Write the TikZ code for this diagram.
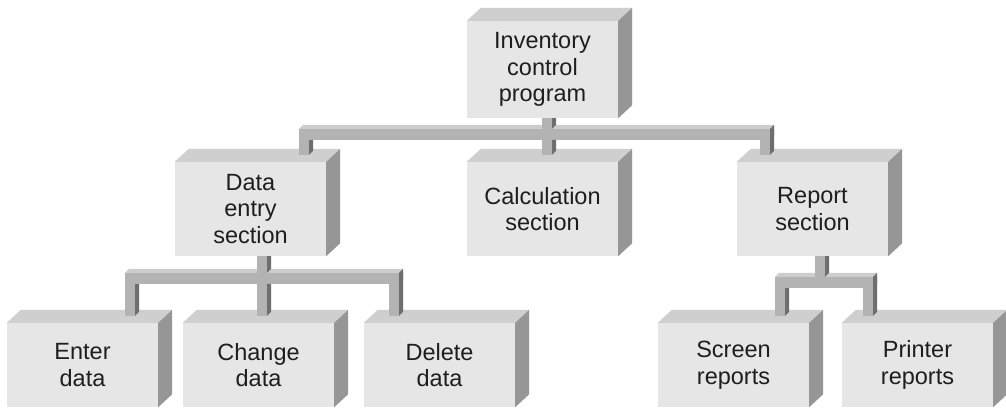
\documentclass[tikz,border=0pt]{standalone}
\usepackage{fontspec}
\setmainfont{Liberation Sans}
\usetikzlibrary{calc}
\definecolor{bfront}{HTML}{E6E6E6}
\definecolor{btop}{HTML}{CFCFCF}
\definecolor{bside}{HTML}{969696}
\definecolor{pfront}{HTML}{B3B3B3}
\definecolor{ptop}{HTML}{CDCDCD}
\definecolor{pside}{HTML}{6E6E6E}
\definecolor{txt}{HTML}{1E1E1E}
\tikzset{
  box/.style={fill=bfront, minimum width=151pt, inner sep=0pt, align=center,
    text=txt, font=\fontsize{23.5pt}{26.5pt}\selectfont},
}
% 3D top and side of a box node
\newcommand\cube[1]{%
  \fill[btop] (#1.north west) -- ++(14,-13) -- ($(#1.north east)+(14,-13)$) -- (#1.north east) -- cycle;
  \fill[bside] (#1.north east) -- ++(14,-13) -- ($(#1.south east)+(14,-13)$) -- (#1.south east) -- cycle;}
% vertical pipe: #1 top-left of front, #2 gives bottom y
\newcommand\vpipe[2]{%
  \fill[pside] let \p1=#1, \p2=#2 in (\x1+10pt,\y1) -- (\x1+14pt,\y1) -- (\x1+14pt,\y2+4pt) -- (\x1+10pt,\y2) -- cycle;
  \fill[pfront] let \p1=#1, \p2=#2 in (\x1,\y1) rectangle (\x1+10pt,\y2);}
% horizontal bar pieces: #1 left front-top, #2 right front-top
\newcommand\bartop[2]{%
  \fill[ptop] let \p1=#1, \p2=#2 in (\x1,\y1) -- (\x1+4pt,\y1+4pt) -- (\x2+4pt,\y1+4pt) -- (\x2,\y1) -- cycle;}
\newcommand\barfront[2]{%
  \fill[pfront] let \p1=#1, \p2=#2 in (\x1,\y1) rectangle (\x2,\y1-11pt);}
\newcommand\barend[1]{%
  \fill[pside] let \p1=#1 in (\x1,\y1) -- (\x1+4pt,\y1+4pt) -- (\x1+4pt,\y1-7pt) -- (\x1,\y1-11pt) -- cycle;}
\begin{document}
\begin{tikzpicture}[x=1pt,y=-1pt]
\useasboundingbox (0,0) rectangle (1006,407);
\fill[white] (0,0) rectangle (1006,407);
% boxes
\node[box, minimum height=97pt] (top) at (542.5,69.5) {Inventory\\control\\program};
\node[box, minimum height=94pt] (data) at (250.5,209) {Data\\entry\\section};
\node[box, minimum height=94pt] (calc) at (542.5,209) {Calculation\\section};
\node[box, minimum height=94pt] (report) at (812.5,209) {Report\\section};
\node[box, minimum height=84pt] (enter) at (82.5,365) {Enter\\data};
\node[box, minimum height=84pt] (change) at (258.5,365) {Change\\data};
\node[box, minimum height=84pt] (delete) at (439.5,365) {Delete\\data};
\node[box, minimum height=84pt] (screen) at (733.5,365) {Screen\\reports};
\node[box, minimum height=84pt] (printer) at (917.5,365) {Printer\\reports};
\foreach \n in {top,data,calc,report,enter,change,delete,screen,printer} {\cube{\n}}
% ---- group A: top -> data, calc, report
\coordinate (AL) at ($(data.north)+(48.5,-33)$);
\coordinate (AR) at ($(report.north)+(-42.5,-33)$);
\coordinate (ARd) at ($(AR)+(-10,0)$);
\coordinate (As) at ($(top.south)+(-0.5,0)$);
\coordinate (Asl) at ($(As |- AL)+(0,11)$);
\vpipe{(AL)}{($(data.north)+(0,-7)$)}
\vpipe{(ARd)}{($(report.north)+(0,-7)$)}
\bartop{(AL)}{(AR)}
\vpipe{(As)}{(AL)}
\barfront{(AL)}{(AR)}
\barend{(AR)}
\vpipe{(Asl)}{($(calc.north)+(0,-7)$)}
% ---- group B: data -> enter, change, delete
\coordinate (BL) at ($(enter.north)+(42.5,-50)$);
\coordinate (BR) at ($(delete.north)+(-40.5,-50)$);
\coordinate (BRd) at ($(BR)+(-10,0)$);
\coordinate (Bs) at ($(data.south)+(6.5,0)$);
\coordinate (Bsl) at ($(Bs |- BL)+(0,11)$);
\vpipe{(BL)}{($(enter.north)+(0,-7)$)}
\vpipe{(BRd)}{($(delete.north)+(0,-7)$)}
\bartop{(BL)}{(BR)}
\vpipe{(Bs)}{(BL)}
\barfront{(BL)}{(BR)}
\barend{(BR)}
\vpipe{(Bsl)}{($(change.north)+(0,-7)$)}
% ---- group C: report -> screen, printer
\coordinate (CL) at ($(screen.north)+(41.5,-46)$);
\coordinate (CR) at ($(printer.north)+(-44.5,-46)$);
\coordinate (CRd) at ($(CR)+(-10,0)$);
\coordinate (Cs) at ($(report.south)+(2.5,0)$);
\vpipe{(CL)}{($(screen.north)+(0,-7)$)}
\vpipe{(CRd)}{($(printer.north)+(0,-7)$)}
\bartop{(CL)}{(CR)}
\vpipe{(Cs)}{(CL)}
\barfront{(CL)}{(CR)}
\barend{(CR)}
\end{tikzpicture}
\end{document}
